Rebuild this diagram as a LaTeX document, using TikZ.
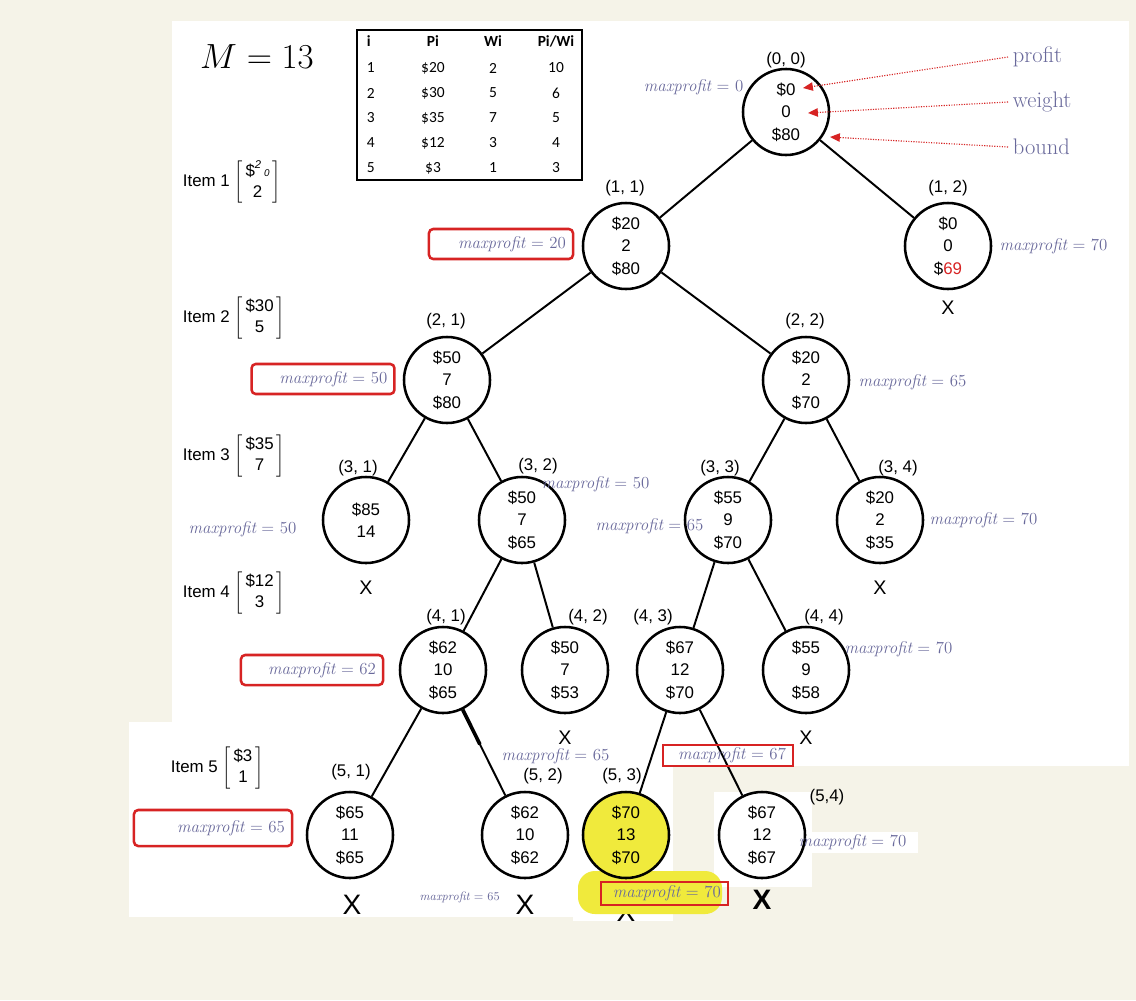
\documentclass[tikz,border=0pt]{standalone}
\usepackage{fontspec}
\setsansfont{Liberation Sans}
\newfontfamily\tabfont{Carlito}
\usetikzlibrary{arrows.meta,calc}

\definecolor{creme}{RGB}{245,243,232}
\definecolor{mpcol}{RGB}{105,105,155}
\definecolor{boxred}{RGB}{215,35,35}
\definecolor{surligne}{RGB}{240,234,60}

\newcommand{\maxp}[1]{{\itshape maxprofit} = #1}
\newcommand{\itemvec}[3]{Item #1 $\left[\begin{array}{@{\,}c@{\,}}\mbox{#2}\\[1pt]\mbox{#3}\end{array}\right]$}

\begin{document}
\begin{tikzpicture}[x=0.025cm, y=-0.025cm,
    etat/.style={circle, draw, line width=1.8pt, minimum size=2.15cm, inner sep=0pt, align=center,
      font=\sffamily\fontsize{12}{16}\selectfont},
    arete/.style={line width=1.4pt},
    coord/.style={font=\sffamily\fontsize{12}{14}\selectfont},
    mp/.style={text=mpcol, font=\fontsize{12}{14}\selectfont, inner sep=1pt},
    mpbox/.style={mp, draw=boxred, line width=1.8pt, rounded corners=3pt, align=right, inner xsep=5pt, inner ysep=0pt},
    croix/.style={font=\sffamily\fontsize{14}{14}\selectfont},
    legende/.style={text=mpcol, font=\fontsize{16}{18}\selectfont, anchor=west},
    objet/.style={anchor=west, font=\sffamily\fontsize{12}{14}\selectfont},
    cellule/.style={font=\tabfont\fontsize{11}{13}\selectfont}]

    % Fond
    \fill[creme] (0,0) rectangle (1136,1000);
    \fill[white] (172,21) rectangle (1129,766);
    \fill[white] (129,722) rectangle (673,917);
    \fill[white] (573,760) rectangle (673,921);
    \fill[white] (714,792) rectangle (812,887);
    \fill[white] (795,832) rectangle (918,853);

    % Capacite et tableau
    \node[font=\fontsize{25}{30}\selectfont] (cap) at (257,57) {$M = 13$};
    \node[draw, line width=0.8pt, minimum width=5.625cm, minimum height=3.75cm] (tab) at (469.5,105) {};
    \node[cellule, anchor=west, font=\tabfont\bfseries\fontsize{11}{13}\selectfont] (ti) at (362,41) {i};
    \node[cellule, font=\tabfont\bfseries\fontsize{11}{13}\selectfont] (tp) at (433,41) {Pi};
    \node[cellule, font=\tabfont\bfseries\fontsize{11}{13}\selectfont] (tw) at (493,41) {Wi};
    \node[cellule, font=\tabfont\bfseries\fontsize{11}{13}\selectfont] (tr) at (556,41) {Pi/Wi};
    \foreach \p/\w/\r [count=\k] in {\$20/2/10, \$30/5/6, \$35/7/5, \$12/3/4, \$3/1/3} {
        \node[cellule, anchor=west] (ti\k) at (362,43+25*\k) {\k};
        \node[cellule] (tp\k) at (433,43+25*\k) {\p};
        \node[cellule] (tw\k) at (493,43+25*\k) {\w};
        \node[cellule] (tr\k) at (556,43+25*\k) {\r};
    }

    % Objets
    \node[objet] (it1) at (178,182) {\itemvec{1}{\$\raisebox{0.9ex}{\footnotesize\itshape 2}\,{\scriptsize\itshape 0}}{2}};
    \node[objet] (it2) at (178,318) {\itemvec{2}{\$30}{5}};
    \node[objet] (it3) at (178,456) {\itemvec{3}{\$35}{7}};
    \node[objet] (it4) at (178,593) {\itemvec{4}{\$12}{3}};
    \node[objet] (it5) at (166,768) {\itemvec{5}{\$3}{1}};

    % Surlignage
    \node[croix, font=\sffamily\fontsize{20}{20}\selectfont] (x53) at (626,912) {X};
    \fill[surligne, rounded corners=12pt] (578,871) rectangle (722,914);

    % Noeuds
    \node[etat] (n00) at (786,112) {\$0\\0\\\$80};
    \node[etat] (n11) at (626,246) {\$20\\2\\\$80};
    \node[etat] (n12) at (948,246) {\$0\\0\\\$\textcolor{boxred}{69}};
    \node[etat] (n21) at (447,380) {\$50\\7\\\$80};
    \node[etat] (n22) at (806,380) {\$20\\2\\\$70};
    \node[etat] (n31) at (366,520) {\$85\\14};
    \node[etat] (n32) at (522,520) {\$50\\7\\\$65};
    \node[etat] (n33) at (728,520) {\$55\\9\\\$70};
    \node[etat] (n34) at (880,520) {\$20\\2\\\$35};
    \node[etat] (n41) at (443,670) {\$62\\10\\\$65};
    \node[etat] (n42) at (565,670) {\$50\\7\\\$53};
    \node[etat] (n43) at (680,670) {\$67\\12\\\$70};
    \node[etat] (n44) at (806,670) {\$55\\9\\\$58};
    \node[etat] (n51) at (350,835) {\$65\\11\\\$65};
    \node[etat] (n52) at (525,835) {\$62\\10\\\$62};
    \node[etat, fill=surligne] (n53) at (626,835) {\$70\\13\\\$70};
    \node[etat] (n54) at (762,835) {\$67\\12\\\$67};

    % Aretes
    \draw[arete] (n00) -- (n11);
    \draw[arete] (n00) -- (n12);
    \draw[arete] (n11) -- (n21);
    \draw[arete] (n11) -- (n22);
    \draw[arete] (n21) -- (n31);
    \draw[arete] (n21) -- (n32);
    \draw[arete] (n22) -- (n33);
    \draw[arete] (n22) -- (n34);
    \draw[arete] (n32) -- (n41);
    \draw[arete] (n32) -- (n42);
    \draw[arete] (n33) -- (n43);
    \draw[arete] (n33) -- (n44);
    \draw[arete] (n41) -- (n51);
    \draw[arete] (n41) -- (n52);
    \draw[line width=2.6pt] (n41) -- ($(n41)!0.45!(n52)$);
    \draw[arete] (n43) -- (n53);
    \draw[arete] (n43) -- (n54);

    % Coordonnees
    \node[coord] (c00) at (786,60) {(0, 0)};
    \node[coord] (c11) at (625,188) {(1, 1)};
    \node[coord] (c12) at (948,188) {(1, 2)};
    \node[coord] (c21) at (446,321) {(2, 1)};
    \node[coord] (c22) at (805,321) {(2, 2)};
    \node[coord] (c31) at (358,468) {(3, 1)};
    \node[coord] (c32) at (538,466) {(3, 2)};
    \node[coord] (c33) at (720,468) {(3, 3)};
    \node[coord] (c34) at (898,468) {(3, 4)};
    \node[coord] (c41) at (446,617) {(4, 1)};
    \node[coord] (c42) at (588,617) {(4, 2)};
    \node[coord] (c43) at (653,617) {(4, 3)};
    \node[coord] (c44) at (824,617) {(4, 4)};
    \node[coord] (c51) at (351,772) {(5, 1)};
    \node[coord] (c52) at (543,776) {(5, 2)};
    \node[coord] (c53) at (622,776) {(5, 3)};
    \node[coord] (c54) at (827,797) {(5,4)};

    % Noeuds elagues
    \node[croix] (x12) at (948,308) {X};
    \node[croix] (x31) at (366,588) {X};
    \node[croix] (x34) at (880,588) {X};
    \node[croix] (x42) at (565,738) {X};
    \node[croix] (x44) at (806,738) {X};
    \node[croix, font=\sffamily\fontsize{20}{20}\selectfont] (x51) at (352,905) {X};
    \node[croix, font=\sffamily\fontsize{20}{20}\selectfont] (x52) at (525,905) {X};
    \node[croix, font=\sffamily\bfseries\fontsize{20}{20}\selectfont] (x54) at (762,900) {X};

    % maxprofit
    \node[mp, anchor=east] (mp00) at (745,87) {\maxp{0}};
    \node[mpbox, text width=3.25cm, minimum height=0.75cm] (mp11) at (501,244) {\maxp{20}};
    \node[mp, anchor=west] (mp12) at (998,246) {\maxp{70}};
    \node[mpbox, text width=3.22cm, minimum height=0.75cm] (mp21) at (323,379) {\maxp{50}};
    \node[mp, anchor=west] (mp22) at (857,382) {\maxp{65}};
    \node[mp, anchor=west] (mp31) at (187,529) {\maxp{50}};
    \node[mp, anchor=west] (mp32) at (540,484) {\maxp{50}};
    \node[mp, anchor=west] (mp33) at (594,526) {\maxp{65}};
    \node[mp, anchor=west] (mp34) at (928,520) {\maxp{70}};
    \node[mpbox, text width=3.2cm, minimum height=0.75cm] (mp41) at (312,670) {\maxp{62}};
    \node[mp, anchor=west] (mp44) at (843,649) {\maxp{70}};
    \node[mp, anchor=west] (mp42) at (500,756) {\maxp{65}};
    \node[mpbox, rounded corners=0pt, line width=1.4pt, text width=2.9cm, minimum height=0.53cm] (mp43) at (728,755.5) {\maxp{67}};
    \node[mpbox, text width=3.6cm, minimum height=0.9cm] (mp51) at (213,828) {\maxp{65}};
    \node[mp, anchor=west, font=\fontsize{8.5}{10}\selectfont] (mp52) at (418,897) {\maxp{65}};
    \node[mpbox, rounded corners=0pt, line width=1.4pt, text width=2.82cm, minimum height=0.58cm] (mp53) at (664.5,893.5) {\maxp{70}};
    \node[mp, anchor=west] (mp54) at (797,842) {\maxp{70}};

    % Legende
    \node[legende] (lprofit) at (1008,57) {profit};
    \node[legende] (lweight) at (1008,102) {weight};
    \node[legende] (lbound) at (1008,147) {bound};
    \coordinate (pprofit) at (803,88);
    \coordinate (pweight) at (808,113);
    \coordinate (pbound) at (830,137);
    \draw[boxred, densely dotted, line width=0.8pt, -{Triangle[length=7pt,width=6pt]}] (lprofit.west) -- (pprofit);
    \draw[boxred, densely dotted, line width=0.8pt, -{Triangle[length=7pt,width=6pt]}] (lweight.west) -- (pweight);
    \draw[boxred, densely dotted, line width=0.8pt, -{Triangle[length=7pt,width=6pt]}] (lbound.west) -- (pbound);
\end{tikzpicture}
\end{document}
